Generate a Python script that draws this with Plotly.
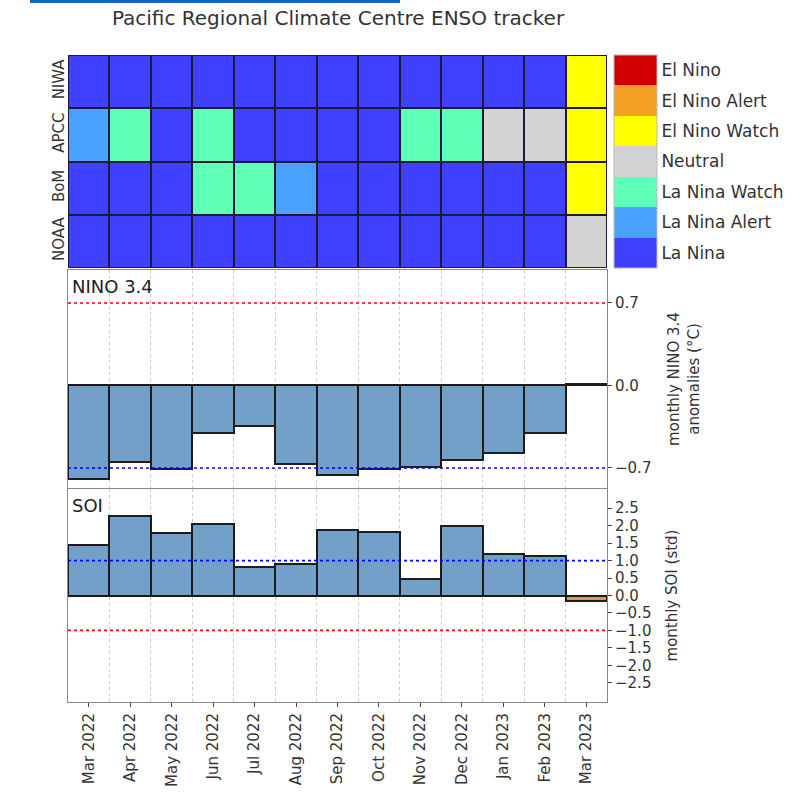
import plotly.graph_objects as go
from plotly.subplots import make_subplots

months = ["Mar 2022", "Apr 2022", "May 2022", "Jun 2022", "Jul 2022", "Aug 2022",
          "Sep 2022", "Oct 2022", "Nov 2022", "Dec 2022", "Jan 2023", "Feb 2023", "Mar 2023"]
agencies = ["NIWA", "APCC", "BoM", "NOAA"]
categories = ["La Nina", "La Nina Alert", "La Nina Watch", "Neutral",
              "El Nino Watch", "El Nino Alert", "El Nino"]
cat_colors = ["#4040ff", "#4aa2ff", "#60ffb8", "#d3d3d3", "#ffff00", "#f5a023", "#d00000"]

# status codes: 0 La Nina .. 6 El Nino
niwa = [0, 0, 0, 0, 0, 0, 0, 0, 0, 0, 0, 0, 4]
apcc = [1, 2, 0, 2, 0, 0, 0, 0, 2, 2, 3, 3, 4]
bom = [0, 0, 0, 2, 2, 1, 0, 0, 0, 0, 0, 0, 4]
noaa = [0, 0, 0, 0, 0, 0, 0, 0, 0, 0, 0, 0, 3]

nino34 = [-0.79, -0.65, -0.71, -0.40, -0.34, -0.67, -0.76, -0.71, -0.69, -0.63, -0.57, -0.405, 0.01]
soi = [1.44, 2.29, 1.80, 2.04, 0.82, 0.91, 1.88, 1.81, 0.46, 2.00, 1.20, 1.12, -0.16]

nino_thresholds = [(0.7, "red"), (-0.7, "blue")]
soi_thresholds = [(1.0, "blue"), (-1.0, "red")]
soi_ticks = [-2.5, -2.0, -1.5, -1.0, -0.5, 0.0, 0.5, 1.0, 1.5, 2.0, 2.5]
nino_ticks = [-0.7, 0.0, 0.7]

FONT = "DejaVu Sans"
TXT = "#333333"
POS_COLOR = "#6c9bc6"
NEG_COLOR = "#ea8a5a"

W, H = 797, 794
ML, MR, MT, MB = 68, 190, 55, 92
PW, PH = W - ML - MR, H - MT - MB


def fmt(v):
    return f"{v:.1f}".replace("-", "\u2212")


def px(sx):
    return (sx - ML) / PW


def py(sy):
    return (H - MB - sy) / PH


fig = make_subplots(rows=3, cols=1, shared_xaxes=False, vertical_spacing=0.0)

xs = list(range(len(months)))

# heatmap
n = len(categories)
cscale = []
for i, c in enumerate(cat_colors):
    cscale.append([i / n, c])
    cscale.append([(i + 1) / n, c])
fig.add_trace(go.Heatmap(
    z=[niwa, apcc, bom, noaa], x=xs, y=agencies,
    zmin=-0.5, zmax=n - 0.5, colorscale=cscale, xgap=2, ygap=2,
    showscale=True,
    colorbar=dict(
        tickvals=list(range(n)), ticktext=categories, ticks="",
        thickness=43, thicknessmode="pixels",
        len=py(55) - py(268), lenmode="fraction", y=1.0, yanchor="top",
        x=px(614), xanchor="left", xpad=0, ypad=0,
        outlinewidth=1, outlinecolor="#bbbbbb",
        tickfont=dict(family=FONT, size=17, color=TXT),
    ),
    hoverinfo="skip"), row=1, col=1)

# NINO bars
fig.add_trace(go.Bar(
    x=xs, y=nino34, width=1.0,
    marker=dict(color=[POS_COLOR if v < 0 else NEG_COLOR for v in nino34],
                line=dict(color="#111111", width=2)),
    opacity=0.95, showlegend=False), row=2, col=1)

# SOI bars
fig.add_trace(go.Bar(
    x=xs, y=soi, width=1.0,
    marker=dict(color=[POS_COLOR if v > 0 else NEG_COLOR for v in soi],
                line=dict(color="#111111", width=2)),
    opacity=0.95, showlegend=False), row=3, col=1)

# threshold lines
for v, col in nino_thresholds:
    fig.add_shape(type="line", xref="x2 domain", yref="y2", x0=0, x1=1, y0=v, y1=v,
                  line=dict(color=col, width=1.6, dash="dot"), layer="above")
for v, col in soi_thresholds:
    fig.add_shape(type="line", xref="x3 domain", yref="y3", x0=0, x1=1, y0=v, y1=v,
                  line=dict(color=col, width=1.6, dash="dot"), layer="above")

# dark background for heatmap cell borders
fig.add_shape(type="rect", xref="x domain", yref="y domain", x0=0, x1=1, y0=0, y1=1,
              fillcolor="#1a1a3a", line=dict(width=0), layer="below")

dom_h = [py(268), 1.0]
dom_n = [py(488), py(270)]
dom_s = [0.0, py(489)]

xrange = [-0.5, len(months) - 0.5]
common_x = dict(range=xrange, tickvals=xs, zeroline=False)
minor_grid = dict(tickvals=[x + 0.5 for x in xs[:-1]], showgrid=True,
                  gridcolor="#cccccc", griddash="dot", gridwidth=1)
fig.update_layout(
    xaxis=dict(**common_x, showticklabels=False, ticks="", showgrid=False, showline=False),
    yaxis=dict(domain=dom_h, autorange="reversed", tickangle=-90, ticks="",
               tickfont=dict(family=FONT, size=15, color=TXT), showgrid=False, showline=False),
    xaxis2=dict(**common_x, showticklabels=False, ticks="", showgrid=False,
                showline=True, mirror=True, linecolor="#888888", linewidth=1,
                minor=minor_grid),
    yaxis2=dict(domain=dom_n, range=[-0.87, 0.98], side="right",
                tickvals=nino_ticks, ticktext=[fmt(v) for v in nino_ticks],
                ticks="outside", ticklen=4, tickcolor="#444",
                showgrid=False, zeroline=False,
                showline=True, mirror=True, linecolor="#888888", linewidth=1,
                tickfont=dict(family=FONT, size=15, color=TXT),
                title=dict(text="monthly NINO 3.4<br>anomalies (°C)",
                           font=dict(family=FONT, size=15, color=TXT), standoff=18)),
    xaxis3=dict(**common_x, ticktext=months, tickangle=-90, ticks="outside", ticklen=4,
                tickcolor="#444", showgrid=False,
                showline=True, mirror=True, linecolor="#888888", linewidth=1,
                tickfont=dict(family=FONT, size=15, color=TXT),
                minor=minor_grid),
    yaxis3=dict(domain=dom_s, range=[-3.05, 3.05], side="right",
                tickvals=soi_ticks, ticktext=[fmt(v) for v in soi_ticks],
                ticks="outside", ticklen=4, tickcolor="#444",
                showgrid=False, zeroline=False,
                showline=True, mirror=True, linecolor="#888888", linewidth=1,
                tickfont=dict(family=FONT, size=15, color=TXT),
                title=dict(text="monthly SOI (std)",
                           font=dict(family=FONT, size=15, color=TXT), standoff=16)),
)
fig.update_xaxes(domain=[0, 1])

# zero lines
fig.add_shape(type="line", xref="x2 domain", yref="y2", x0=0, x1=1, y0=0, y1=0,
              line=dict(color="#888888", width=1), layer="below")
fig.add_shape(type="line", xref="x3 domain", yref="y3", x0=0, x1=1, y0=0, y1=0,
              line=dict(color="#888888", width=1), layer="below")

fig.add_annotation(text="NINO 3.4", xref="x2 domain", yref="y2 domain", x=0.0, y=1.0,
                   xanchor="left", yanchor="top", showarrow=False, xshift=2, yshift=-4,
                   font=dict(family=FONT, size=18, color="#222"))
fig.add_annotation(text="SOI", xref="x3 domain", yref="y3 domain", x=0.0, y=1.0,
                   xanchor="left", yanchor="top", showarrow=False, xshift=2, yshift=-4,
                   font=dict(family=FONT, size=18, color="#222"))

# page decoration: blue strip at top
fig.add_shape(type="rect", xref="paper", yref="paper",
              x0=px(30), x1=px(400), y0=py(3), y1=py(0),
              fillcolor="#1565c0", line=dict(width=0))

fig.update_layout(
    width=W, height=H,
    margin=dict(l=ML, r=MR, t=MT, b=MB, autoexpand=False),
    paper_bgcolor="white", plot_bgcolor="white",
    bargap=0, showlegend=False,
    title=dict(text="Pacific Regional Climate Centre ENSO tracker", x=338 / W, xanchor="center",
               y=1 - 18 / H, yanchor="middle", font=dict(family=FONT, size=20, color=TXT)),
    font=dict(family=FONT, color=TXT),
)

fig.write_html("out.html", config={"displayModeBar": False},
               post_script="document.body.style.margin='0';document.body.style.overflow='hidden';")
